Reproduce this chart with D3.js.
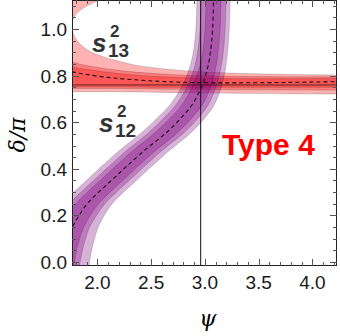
<!DOCTYPE html>
<html>
<head>
<meta charset="utf-8">
<script src="https://cdn.jsdelivr.net/npm/d3@7"></script>
<style>
  body { margin: 0; background: #fff; }
</style>
</head>
<body>
<div id="chart"></div>
<script>
// s13^2 band, sampled along psi
const psiS13 = [1.763, 1.79, 1.83, 1.9, 2.0, 2.15, 2.35, 2.6, 2.9, 3.3, 3.8, 4.228];
const s13Up3 = [0.996, 0.965, 0.94, 0.912, 0.89, 0.868, 0.845, 0.83, 0.818, 0.81, 0.805, 0.803];
const s13Up2 = [0.86, 0.855, 0.85, 0.843, 0.835, 0.825, 0.815, 0.807, 0.8, 0.797, 0.795, 0.795];
const s13Up1 = [0.838, 0.835, 0.831, 0.826, 0.82, 0.811, 0.802, 0.795, 0.79, 0.787, 0.787, 0.788];
const s13Mid = [0.817, 0.814, 0.81, 0.805, 0.798, 0.79, 0.782, 0.775, 0.77, 0.769, 0.771, 0.774];
const s13Lo1 = [0.752, 0.752, 0.752, 0.752, 0.752, 0.752, 0.751, 0.75, 0.75, 0.75, 0.75, 0.75];
const s13Lo2 = [0.745, 0.745, 0.745, 0.745, 0.745, 0.745, 0.744, 0.742, 0.741, 0.74, 0.739, 0.738];
const s13Lo3 = [0.731, 0.731, 0.731, 0.731, 0.731, 0.731, 0.73, 0.728, 0.726, 0.724, 0.722, 0.721];
// upper-left piece of the 3 sigma s13 region (near delta = pi)
const psiS13Top = [1.763, 1.8, 1.883, 2.023, 2.1];
const s13TopLo = [1.03, 1.063, 1.094, 1.124, 1.135];

// s12^2 band, sampled along delta/pi
const deltaS12 = [-0.02, 0.05, 0.146, 0.185, 0.249, 0.305, 0.356, 0.412, 0.481, 0.554, 0.618, 0.674, 0.747, 0.815, 0.888, 0.996, 1.13];
const s12Mid = [1.67, 1.70, 1.763, 1.809, 1.902, 2.023, 2.144, 2.274, 2.442, 2.637, 2.777, 2.879, 2.963, 3.014, 3.047, 3.07, 3.08];
const s12W3 = [0.25, 0.245, 0.24, 0.235, 0.232, 0.232, 0.232, 0.232, 0.232, 0.23, 0.22, 0.205, 0.185, 0.17, 0.16, 0.155, 0.155];
const s12W2 = [0.16, 0.16, 0.16, 0.162, 0.165, 0.165, 0.165, 0.165, 0.165, 0.165, 0.16, 0.15, 0.135, 0.125, 0.12, 0.117, 0.117];
const s12W1 = [0.11, 0.105, 0.105, 0.105, 0.105, 0.105, 0.105, 0.105, 0.105, 0.105, 0.1, 0.095, 0.085, 0.078, 0.072, 0.07, 0.07];

// best fit point
const bestPsi = 2.96;
const bestDelta = 0.76;

const xTicks = [2.0, 2.5, 3.0, 3.5, 4.0];
const yTicks = [0.0, 0.2, 0.4, 0.6, 0.8, 1.0];

const width = 340;
const height = 336;
const margin = { top: 0, right: 3, bottom: 70, left: 72 };

const x = d3.scaleLinear().domain([1.763, 4.228]).range([margin.left, width - margin.right]);
const y = d3.scaleLinear().domain([-0.017, 1.1245]).range([height - margin.bottom, margin.top]);

const svg = d3
  .select("#chart")
  .append("svg")
  .attr("width", width)
  .attr("height", height)
  .style("font-family", "'Liberation Sans', Arial, sans-serif");

svg.append("clipPath").attr("id", "plot")
  .append("rect")
  .attr("x", x.range()[0]).attr("y", y.range()[1])
  .attr("width", x.range()[1] - x.range()[0])
  .attr("height", y.range()[0] - y.range()[1]);

const g = svg.append("g").attr("clip-path", "url(#plot)");

// red s13 band
const s13Rows = psiS13.map((p, i) => ({
  p, up: [s13Up1[i], s13Up2[i], s13Up3[i]], lo: [s13Lo1[i], s13Lo2[i], s13Lo3[i]], mid: s13Mid[i]
}));

[2, 1, 0].forEach((k) => {
  const area = d3.area()
    .curve(d3.curveCatmullRom)
    .x((d) => x(d.p))
    .y0((d) => y(d.lo[k]))
    .y1((d) => y(d.up[k]));
  g.append("path")
    .attr("d", area(s13Rows))
    .style("fill", "#ff0000")
    .style("fill-opacity", 0.3)
    .style("stroke", "#000")
    .style("stroke-opacity", 0.25)
    .style("stroke-width", 0.7);
});

const s13TopRows = psiS13Top.map((p, i) => ({ p, lo: s13TopLo[i] }));
g.append("path")
  .attr("d", d3.area()
    .curve(d3.curveCatmullRom)
    .x((d) => x(d.p))
    .y0((d) => y(d.lo))
    .y1(y(1.2))(s13TopRows))
  .style("fill", "#ff0000")
  .style("fill-opacity", 0.3)
  .style("stroke", "#000")
  .style("stroke-opacity", 0.25)
  .style("stroke-width", 0.7);

// purple s12 band
const s12Rows = deltaS12.map((d, i) => ({
  d, mid: s12Mid[i], w: [s12W1[i], s12W2[i], s12W3[i]]
}));

[2, 1, 0].forEach((k) => {
  const area = d3.area()
    .curve(d3.curveCatmullRom)
    .y((d) => y(d.d))
    .x0((d) => x(d.mid - d.w[k]))
    .x1((d) => x(d.mid + d.w[k]));
  g.append("path")
    .attr("d", area(s12Rows))
    .style("fill", "#800080")
    .style("fill-opacity", 0.3)
    .style("stroke", "#000")
    .style("stroke-opacity", 0.25)
    .style("stroke-width", 0.7);
});

// dashed best-fit curves
g.append("path")
  .attr("d", d3.line().curve(d3.curveCatmullRom).x((d) => x(d.p)).y((d) => y(d.mid))(s13Rows))
  .style("fill", "none")
  .style("stroke", "#111")
  .style("stroke-width", 1.1)
  .style("stroke-dasharray", "4,3");

g.append("path")
  .attr("d", d3.line().curve(d3.curveCatmullRom).x((d) => x(d.mid)).y((d) => y(d.d))(s12Rows))
  .style("fill", "none")
  .style("stroke", "#111")
  .style("stroke-width", 1.1)
  .style("stroke-dasharray", "4,3");

// crosshair at best fit
g.append("line")
  .attr("x1", x(bestPsi)).attr("x2", x(bestPsi))
  .attr("y1", y.range()[0]).attr("y2", y.range()[1])
  .style("stroke", "#111").style("stroke-width", 1);
g.append("line")
  .attr("x1", x.range()[0]).attr("x2", x.range()[1])
  .attr("y1", y(bestDelta)).attr("y2", y(bestDelta))
  .style("stroke", "#111").style("stroke-opacity", 0.7).style("stroke-width", 1);

// frame
svg.append("rect")
  .attr("x", x.range()[0] + 0.5).attr("y", y.range()[1] + 0.5)
  .attr("width", x.range()[1] - x.range()[0] - 1)
  .attr("height", y.range()[0] - y.range()[1] - 1)
  .style("fill", "none")
  .style("stroke", "#222")
  .style("stroke-width", 1);

// ticks (inward, on all four sides)
const xMinor = d3.range(18, 43).map((v) => v / 10);
const yMinor = d3.range(0, 23).map((v) => v / 20);
const ticks = svg.append("g").style("stroke", "#555").style("stroke-width", 1);
const isMajor = (v, list) => list.some((t) => Math.abs(t - v) < 1e-6);

xMinor.forEach((v) => {
  const len = isMajor(v, xTicks) ? 7 : 4;
  const px = Math.round(x(v)) + 0.5;
  ticks.append("line").attr("x1", px).attr("x2", px)
    .attr("y1", y.range()[0]).attr("y2", y.range()[0] - len);
  ticks.append("line").attr("x1", px).attr("x2", px)
    .attr("y1", y.range()[1]).attr("y2", y.range()[1] + len);
});
yMinor.forEach((v) => {
  const len = isMajor(v, yTicks) ? 7 : 4;
  const py = Math.round(y(v)) + 0.5;
  ticks.append("line").attr("y1", py).attr("y2", py)
    .attr("x1", x.range()[0]).attr("x2", x.range()[0] + len);
  ticks.append("line").attr("y1", py).attr("y2", py)
    .attr("x1", x.range()[1]).attr("x2", x.range()[1] - len);
});

// tick labels
svg.append("g").selectAll("text").data(xTicks).enter()
  .append("text")
  .attr("x", (d) => x(d))
  .attr("y", 289)
  .attr("text-anchor", "middle")
  .style("font-size", "19px")
  .style("fill", "#1a1a1a")
  .text((d) => d.toFixed(1));

svg.append("g").selectAll("text").data(yTicks).enter()
  .append("text")
  .attr("x", 67)
  .attr("y", (d) => y(d) + 7)
  .attr("text-anchor", "end")
  .style("font-size", "19px")
  .style("fill", "#1a1a1a")
  .text((d) => d.toFixed(1));

// axis titles
svg.append("text")
  .attr("x", 208)
  .attr("y", 326)
  .attr("text-anchor", "middle")
  .style("font-family", "'DejaVu Serif', serif")
  .style("font-style", "italic")
  .style("font-size", "22px")
  .text("ψ");

svg.append("text")
  .attr("transform", "translate(25,135) rotate(-90)")
  .attr("text-anchor", "middle")
  .style("font-family", "'DejaVu Serif', serif")
  .style("font-style", "italic")
  .style("font-size", "22px")
  .text("δ/π");

// band labels
function bandLabel(sx, sy, sub) {
  const t = svg.append("g").style("fill", "#333").style("font-weight", "bold");
  t.append("text").attr("x", sx).attr("y", sy)
    .style("font-size", "26px").style("font-style", "italic").text("s");
  t.append("text").attr("x", sx + 18).attr("y", sy - 15)
    .style("font-size", "17px").text("2");
  t.append("text").attr("x", sx + 16).attr("y", sy + 5)
    .style("font-size", "19px").text(sub);
}
bandLabel(92, 52, "13");
bandLabel(99, 132, "12");

svg.append("text")
  .attr("x", 222)
  .attr("y", 155)
  .style("font-size", "30px")
  .style("font-weight", "bold")
  .style("fill", "#ff0000")
  .text("Type 4");
</script>
</body>
</html>
